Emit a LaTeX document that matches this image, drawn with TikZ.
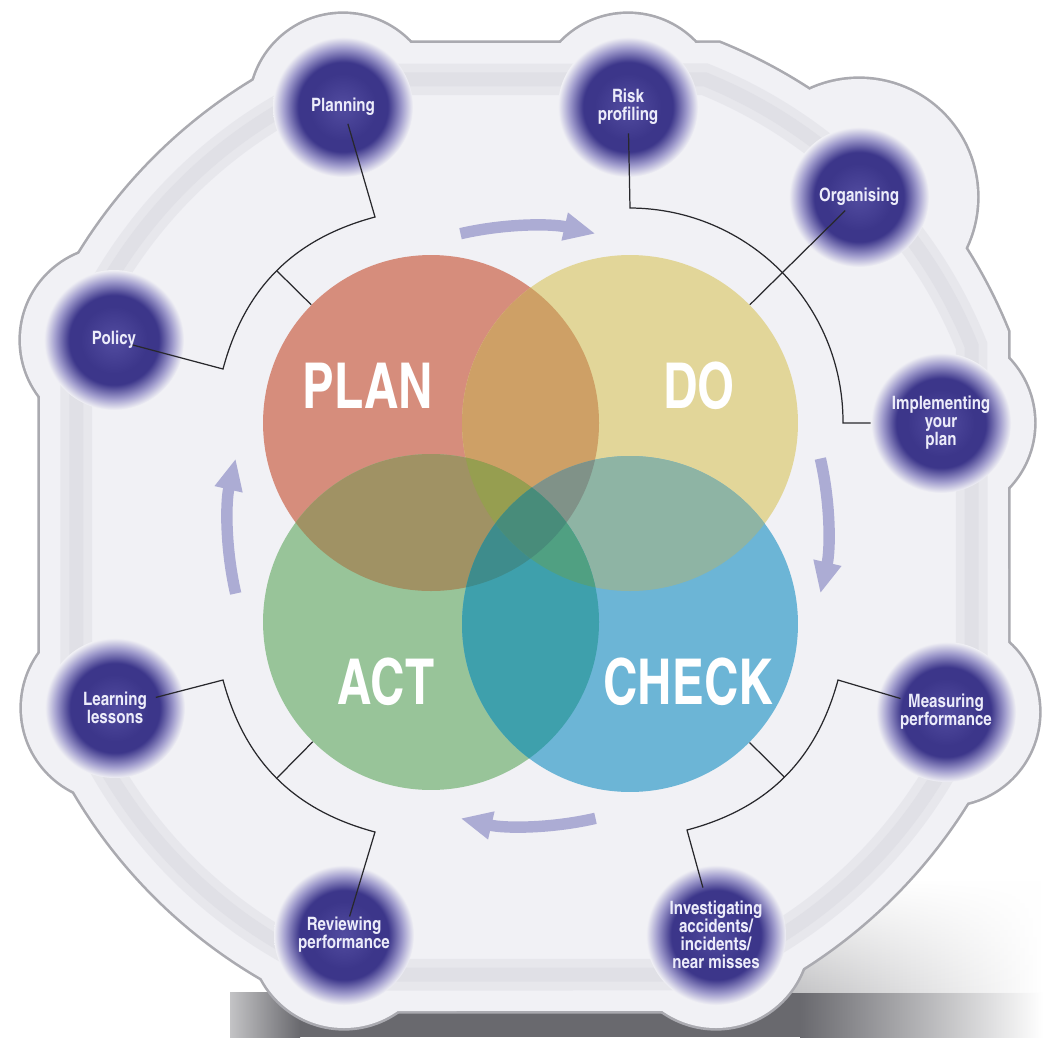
\documentclass[tikz,border=0pt]{standalone}
\usepackage{fontspec}
\usepackage{xcolor}
\usepackage{tikz}
\usetikzlibrary{arrows.meta, fadings}

\newfontfamily\cnfont{texgyreheroscn-bold.otf}
\newfontfamily\cnwide{texgyreheroscn-bold.otf}[FakeStretch=0.92]

\definecolor{plate}{RGB}{241,241,245}
\definecolor{rimc}{RGB}{170,170,176}
\definecolor{groovec}{RGB}{214,214,222}
\definecolor{dotin}{RGB}{82,76,160}
\definecolor{dotmid}{RGB}{60,54,138}
\definecolor{dotout}{RGB}{160,156,205}
\definecolor{lbl}{RGB}{236,236,250}
\definecolor{lnc}{RGB}{40,40,44}
\definecolor{arrc}{RGB}{172,172,212}
\definecolor{shadc}{RGB}{105,105,110}
\definecolor{planc}{RGB}{214,141,124}
\definecolor{doc}{RGB}{226,214,153}
\definecolor{actc}{RGB}{152,196,153}
\definecolor{checkc}{RGB}{108,181,214}
\definecolor{pdc}{RGB}{206,160,102}
\definecolor{pac}{RGB}{160,146,100}
\definecolor{dcc}{RGB}{142,180,164}
\definecolor{acc}{RGB}{62,160,172}
\definecolor{pdac}{RGB}{150,158,80}
\definecolor{pdcc}{RGB}{128,146,136}
\definecolor{pacc}{RGB}{62,140,140}
\definecolor{dacc}{RGB}{80,160,130}
\definecolor{allc}{RGB}{72,140,122}

% the path border sits at 25bp
\pgfdeclareradialshading{dotfade}{\pgfpoint{0bp}{0bp}}{%
  color(0bp)=(dotin); color(12bp)=(dotmid); color(16bp)=(dotmid);
  color(21bp)=(dotout); color(25bp)=(plate); color(50bp)=(plate)}

% outline of the plate, centred on the origin
\def\platepath{(-484,195.5) -- (-484,-195.5) arc[start angle=202, end angle=248, radius=522]
  -- (195.5,-484) arc[start angle=292, end angle=338, radius=522]
  -- (484,195.5) arc[start angle=22, end angle=68, radius=522]
  -- (-195.5,484) arc[start angle=112, end angle=158, radius=522] -- cycle}

\begin{document}
\begin{tikzpicture}[
  x=0.02cm, y=-0.02cm,
  venn/.style={circle, minimum size=6.72cm, inner sep=0pt},
  spot/.style={circle, minimum size=2.8cm, inner sep=0pt, shade, shading=dotfade,
    text=lbl, align=center, font=\cnfont\fontsize{10.5}{10.3}\selectfont},
  word/.style={text=white, inner sep=0pt, font=\cnwide\fontsize{36}{36}\selectfont},
  bracket/.style={draw=lnc, line width=0.7pt},
  cyc/.style={draw=arrc, line width=6.5pt, -{Triangle[length=18pt,width=15pt]}}
]
  \useasboundingbox (0,0) rectangle (1043,1037);
  \fill[white] (0,0) rectangle (1043,1037);

  % shadow under the plate
  \shade[left color=shadc!40!white, right color=shadc] (230,992) rectangle (300,1037);
  \fill[shadc] (300,992) rectangle (800,1037);
  \shade[left color=shadc, right color=white] (800,992) rectangle (1043,1037);
  \shade[left color=shadc!45!white, right color=white, path fading=north] (760,880) rectangle (1043,992);

  % plate
  \foreach \x/\y/\r in {343/107/93,628/107/93,859/197/118,941/423/93,946/712/93,716/935/93,344/935/93,115/708/93,114/340/93}
    \draw[rimc, line width=3pt] (\x,\y) circle[radius=\r];
  \draw[rimc, line width=3pt, shift={(524,527)}] \platepath;
  \foreach \x/\y/\r in {343/107/93,628/107/93,859/197/118,941/423/93,946/712/93,716/935/93,344/935/93,115/708/93,114/340/93}
    \fill[plate] (\x,\y) circle[radius=\r];
  \fill[plate, shift={(524,527)}] \platepath;
  \begin{scope}[shift={(524,527)}, scale=0.925]
    \draw[groovec, line width=18pt, opacity=.35] \platepath;
    \draw[groovec, line width=8pt, opacity=.4] \platepath;
  \end{scope}

  % PDCA circles
  \node[venn, fill=planc] (plan) at (431,423) {};
  \node[venn, fill=doc] (do) at (630,423) {};
  \node[venn, fill=actc] (act) at (431,622) {};
  \node[venn, fill=checkc] (check) at (630,624) {};

  \begin{scope}
    \clip (plan.center) circle[radius=168];
    \fill[pdc] (do.center) circle[radius=168];
    \fill[pac] (act.center) circle[radius=168];
  \end{scope}
  \begin{scope}
    \clip (check.center) circle[radius=168];
    \fill[dcc] (do.center) circle[radius=168];
    \fill[acc] (act.center) circle[radius=168];
  \end{scope}
  \begin{scope}
    \clip (plan.center) circle[radius=168];
    \clip (do.center) circle[radius=168];
    \fill[pdac] (act.center) circle[radius=168];
    \fill[pdcc] (check.center) circle[radius=168];
  \end{scope}
  \begin{scope}
    \clip (act.center) circle[radius=168];
    \clip (check.center) circle[radius=168];
    \fill[pacc] (plan.center) circle[radius=168];
    \fill[dacc] (do.center) circle[radius=168];
  \end{scope}
  \begin{scope}
    \clip (plan.center) circle[radius=168];
    \clip (do.center) circle[radius=168];
    \clip (act.center) circle[radius=168];
    \fill[allc] (check.center) circle[radius=168];
  \end{scope}

  \node[word] (tplan) at (368,386) {PLAN};
  \node[word] (tdo) at (699,386) {DO};
  \node[word] (tact) at (386,682) {ACT};
  \node[word] (tcheck) at (688,682) {CHECK};

  % cycle arrows
  \coordinate (hub) at (528,526);
  \foreach \a in {257,347,77,167}
    \draw[cyc] (hub) ++(\a:300) arc[start angle=\a, delta angle=26, radius=300];

  % spots
  \node[spot] (planning) at (343,107) {Planning};
  \node[spot] (risk) at (628,107) {Risk\\profiling};
  \node[spot] (organising) at (859,197) {Organising};
  \node[spot] (impl) at (941,423) {Implementing\\your\\plan};
  \node[spot] (measuring) at (946,712) {Measuring\\performance};
  \node[spot] (investigating) at (716,935) {Investigating\\accidents/\\incidents/\\near misses};
  \node[spot] (reviewing) at (344,935) {Reviewing\\performance};
  \node[spot] (learning) at (115,708) {Learning\\lessons};
  \node[spot] (policy) at (114,340) {Policy};

  % brackets
  \coordinate (ulA) at (223,369);
  \coordinate (ulB) at (375,217);
  \coordinate (urA) at (630,208);
  \coordinate (urB) at (843,423);
  \coordinate (lrA) at (838,680);
  \coordinate (lrB) at (687,830);
  \coordinate (llA) at (223,680);
  \coordinate (llB) at (375,832);

  \draw[bracket, shorten <=11pt, shorten >=10pt] (policy.center) -- (ulA)
    to[bend left=30] coordinate[pos=.5] (ulT) (ulB) -- (planning.center);
  \draw[bracket, shorten <=15pt] (risk.center) -- (urA) to[bend left=45] (urB) -- (impl);
  \draw[bracket, shorten <=11pt] (organising.center) -- (do);
  \draw[bracket, shorten <=27pt, shorten >=28pt] (measuring.center) -- (lrA)
    to[bend left=30] coordinate[pos=.5] (lrT) (lrB) -- (investigating.center);
  \draw[bracket, shorten <=24pt, shorten >=11pt] (learning.center) -- (llA)
    to[bend right=30] coordinate[pos=.5] (llT) (llB) -- (reviewing.center);
  \draw[bracket] (ulT) -- (plan);
  \draw[bracket] (lrT) -- (check);
  \draw[bracket] (llT) -- (act);
\end{tikzpicture}
\end{document}
